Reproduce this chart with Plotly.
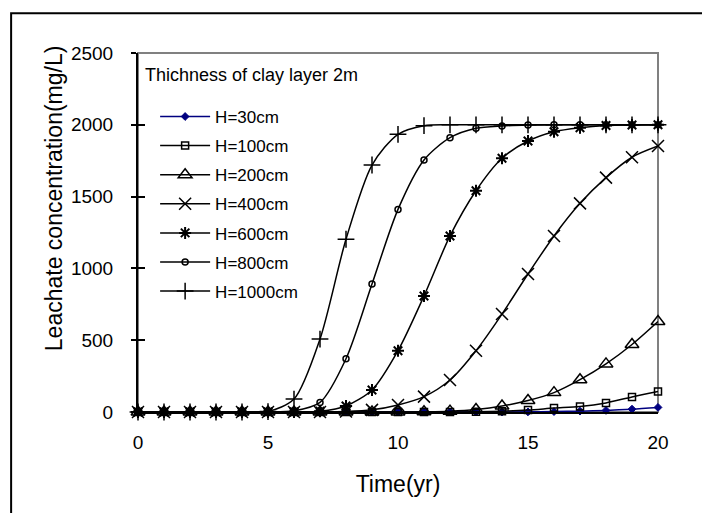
import plotly.graph_objects as go

# Leachate concentration below the clay liner for different leachate heads
years = list(range(0, 21))

h30 = [0, 0, 0, 0, 0, 0, 0, 0, 0, 0, 0, 0, 0, 0, 0, 1, 3, 6, 11, 20, 32]
h100 = [0, 0, 0, 0, 0, 0, 0, 0, 0, 0, 0, 0, 0, 2, 6, 14, 27, 38, 63, 105, 142]
h200 = [0, 0, 0, 0, 0, 0, 0, 0, 0, 0, 0, 2, 6, 18, 42, 80, 135, 225, 335, 470, 630]
h400 = [0, 0, 0, 0, 0, 0, 0, 0, 3, 15, 49, 107, 223, 427, 682, 961, 1226, 1453, 1632, 1774, 1852]
h600 = [0, 0, 0, 0, 0, 0, 0, 5, 42, 153, 427, 808, 1226, 1541, 1767, 1887, 1952, 1980, 1995, 1999, 2000]
h800 = [0, 0, 0, 0, 0, 0, 8, 67, 371, 891, 1411, 1755, 1910, 1976, 1992, 1998, 2000, 2000, 2000, 2000, 2000]
h1000 = [0, 0, 0, 0, 0, 3, 90, 508, 1203, 1720, 1934, 1994, 2000, 2000, 2000, 2000, 2000, 2000, 2000, 2000, 2000]

series_names = ["H=30cm", "H=100cm", "H=200cm", "H=400cm", "H=600cm", "H=800cm", "H=1000cm"]
series_values = [h30, h100, h200, h400, h600, h800, h1000]

y_ticks = [0, 500, 1000, 1500, 2000, 2500]
x_ticks = [0, 5, 10, 15, 20]

FONT = "Arial, Liberation Sans, sans-serif"

styles = [
    dict(line_color="#000080", symbol="diamond", size=6, mcolor="#000080", mline=1),
    dict(line_color="black", symbol="square-open", size=7, mcolor="black", mline=1.5),
    dict(line_color="black", symbol="triangle-up-open", size=12, mcolor="black", mline=1.5),
    dict(line_color="black", symbol="x-thin-open", size=12, mcolor="black", mline=1.5),
    dict(line_color="black", symbol="asterisk-open", size=10, mcolor="black", mline=2),
    dict(line_color="black", symbol="circle-open", size=6, mcolor="black", mline=1.5),
    dict(line_color="black", symbol="cross-thin-open", size=12, mcolor="black", mline=1.5),
]

fig = go.Figure()
for i, (name, vals, st) in enumerate(zip(series_names, series_values, styles)):
    fig.add_trace(go.Scatter(
        x=years, y=vals, name=name, mode="lines+markers",
        legendgroup=f"g{i}",
        line=dict(color=st["line_color"], width=1.5, shape="spline", smoothing=0.8),
        marker=dict(symbol=st["symbol"], size=st["size"], color=st["mcolor"],
                    line=dict(color=st["mcolor"], width=st["mline"])),
        cliponaxis=False,
    ))

# inner half of the crossing ticks on the value axis
fig.add_trace(go.Scatter(x=[None], y=[None], yaxis="y2", showlegend=False, hoverinfo="skip"))

fig.update_layout(
    width=702, height=513,
    margin=dict(l=138, r=44, t=53, b=101),
    paper_bgcolor="white", plot_bgcolor="white",
    font=dict(family=FONT, color="black"),
    showlegend=True,
    legend=dict(
        x=0.006, y=0.872, xanchor="left", yanchor="top",
        bgcolor="rgba(0,0,0,0)", borderwidth=0,
        font=dict(size=17, family=FONT),
        traceorder="grouped", tracegroupgap=4,
        itemwidth=50, indentation=14,
    ),
    xaxis=dict(
        range=[0, 20], tickvals=x_ticks, ticks="", showgrid=False, zeroline=False,
        showline=True, linecolor="black", linewidth=2,
        tickfont=dict(size=19), ticklabelstandoff=12,
        title=dict(text="Time(yr)", font=dict(size=23), standoff=24),
    ),
    yaxis=dict(
        range=[0, 2500], tickvals=y_ticks, ticks="outside", ticklen=5, tickwidth=2,
        tickcolor="black", showgrid=False, zeroline=False,
        showline=True, linecolor="black", linewidth=2,
        tickfont=dict(size=19), ticklabelstandoff=14,
    ),
    yaxis2=dict(
        range=[0, 2500], tickvals=y_ticks, overlaying="y", side="left",
        ticks="inside", ticklen=7, tickwidth=2, tickcolor="black",
        showticklabels=False, showgrid=False, zeroline=False, showline=False,
    ),
    shapes=[
        # plot-area frame
        dict(type="rect", xref="paper", yref="paper", x0=0, x1=1, y0=0, y1=1,
             line=dict(color="#808080", width=2), layer="below"),
        # chart-area border
        dict(type="rect", xref="paper", yref="paper", x0=-0.244, x1=2, y0=-2, y1=1.111,
             line=dict(color="black", width=2), layer="above"),
    ],
    annotations=[
        dict(text="Leachate concentration(mg/L)", xref="paper", yref="paper",
             x=-0.16, y=0.595, xanchor="center", yanchor="middle",
             textangle=-90, showarrow=False,
             font=dict(size=23, family=FONT)),
        dict(text="Thichness of clay layer 2m", xref="paper", yref="paper",
             x=0.01, y=0.94, xanchor="left", yanchor="middle", showarrow=False,
             font=dict(size=18, family=FONT)),
    ],
)

fig.write_html("out.html")
